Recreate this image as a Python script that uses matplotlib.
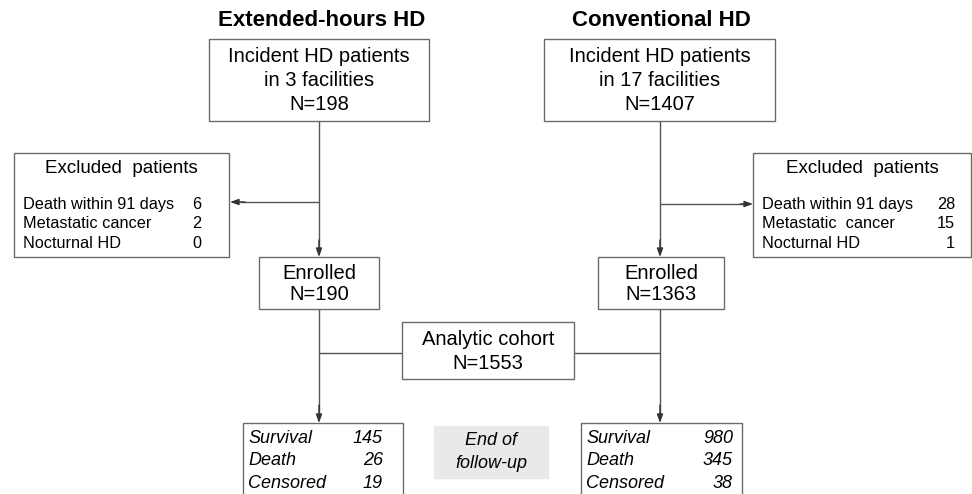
import matplotlib
matplotlib.use("Agg")
import matplotlib.pyplot as plt
from matplotlib.patches import Rectangle

plt.rcParams['font.family'] = ['Liberation Sans', 'DejaVu Sans']

# --- data ---
arms = ['Extended-hours HD', 'Conventional HD']
facilities = [3, 17]
incident_n = [198, 1407]
excl_reasons = ['Death within 91 days', 'Metastatic cancer', 'Nocturnal HD']
excl_reasons_right = ['Death within 91 days', 'Metastatic  cancer', 'Nocturnal HD']
excl_left = [6, 2, 0]
excl_right = [28, 15, 1]
enrolled_n = [190, 1363]
cohort_n = 1553
outcomes = ['Survival', 'Death', 'Censored']
outcome_left = [145, 26, 19]
outcome_right = [980, 345, 38]

edge = '#6b6b6b'

fig = plt.figure(figsize=(9.72, 4.94), dpi=100)
ax = fig.add_axes([0, 0, 1, 1])
ax.set_xlim(0, 972)
ax.set_ylim(494, 0)
ax.axis('off')


def box(x0, y0, x1, y1, fc='white', ec=edge):
    ax.add_patch(Rectangle((x0, y0), x1 - x0, y1 - y0, fc=fc, ec=ec, lw=1.0, zorder=2))


def line(xs, ys):
    ax.plot(xs, ys, color='#555555', lw=1.0, zorder=1, solid_capstyle='butt')


def arrow(x0, y0, x1, y1):
    ax.annotate('', xy=(x1, y1), xytext=(x0, y0),
                arrowprops=dict(arrowstyle='-|>,head_length=0.5,head_width=0.18',
                                color='#333333', lw=1.0, shrinkA=0, shrinkB=0),
                zorder=3)


# titles
ax.text(322, 20, arms[0], ha='center', va='center', fontsize=16, fontweight='bold')
ax.text(661, 20, arms[1], ha='center', va='center', fontsize=16, fontweight='bold')

# incident boxes
for (x0, x1), fac, n in zip([(209, 429), (544, 775)], facilities, incident_n):
    box(x0, 39, x1, 121)
    cx = (x0 + x1) / 2
    ax.text(cx, 56, 'Incident HD patients', ha='center', va='center', fontsize=14.5, zorder=4)
    ax.text(cx, 80, f'in {fac} facilities', ha='center', va='center', fontsize=14.5, zorder=4)
    ax.text(cx, 104, f'N={n}', ha='center', va='center', fontsize=14.5, zorder=4)

# exclusion boxes
for (x0, x1), reasons, vals, vx, ha in [((14, 229), excl_reasons, excl_left, 197, 'center'),
                                       ((753, 971), excl_reasons_right, excl_right, 955, 'right')]:
    box(x0, 153, x1, 257)
    ax.text((x0 + x1) / 2, 168, 'Excluded  patients', ha='center', va='center', fontsize=13.5, zorder=4)
    for i, (r, v) in enumerate(zip(reasons, vals)):
        yy = 204 + i * 19.5
        ax.text(x0 + 9, yy, r, ha='left', va='center', fontsize=11.7, zorder=4)
        ax.text(vx, yy, str(v), ha=ha, va='center', fontsize=11.7, zorder=4)

# flow lines, left arm
line([319, 319], [121, 250])
arrow(319, 240, 319, 257)
line([319, 240], [202, 202])
arrow(245, 202, 230, 202)
# flow lines, right arm
line([660, 660], [121, 250])
arrow(660, 240, 660, 257)
line([660, 745], [204, 204])
arrow(740, 204, 753, 204)

# enrolled boxes
for (x0, x1), n in zip([(259, 379), (598, 724)], enrolled_n):
    box(x0, 257, x1, 309)
    cx = (x0 + x1) / 2
    ax.text(cx, 273, 'Enrolled', ha='center', va='center', fontsize=14.5, zorder=4)
    ax.text(cx, 294, f'N={n}', ha='center', va='center', fontsize=14.5, zorder=4)

# analytic cohort
line([319, 319], [309, 415])
arrow(319, 405, 319, 423)
line([660, 660], [309, 415])
arrow(660, 405, 660, 423)
line([319, 402], [353, 353])
line([574, 660], [353, 353])
box(402, 322, 574, 379)
ax.text(488, 339, 'Analytic cohort', ha='center', va='center', fontsize=14.5, zorder=4)
ax.text(488, 363, f'N={cohort_n}', ha='center', va='center', fontsize=14.5, zorder=4)

# outcome boxes
for (x0, x1), vals, vx in [((243, 403), outcome_left, 383), ((581, 742), outcome_right, 733)]:
    box(x0, 423, x1, 510)
    for i, (lab, v) in enumerate(zip(outcomes, vals)):
        yy = 438 + i * 22.5
        ax.text(x0 + 5, yy, lab, ha='left', va='center', fontsize=13, style='italic', zorder=4)
        ax.text(vx, yy, str(v), ha='right', va='center', fontsize=13, style='italic', zorder=4)

# end of follow-up
box(434, 426, 548, 478, fc='#e9e9e9', ec='#e9e9e9')
ax.text(491, 440, 'End of', ha='center', va='center', fontsize=13, style='italic', zorder=4)
ax.text(491, 463, 'follow-up', ha='center', va='center', fontsize=13, style='italic', zorder=4)

fig.savefig('out.png', dpi=100)
